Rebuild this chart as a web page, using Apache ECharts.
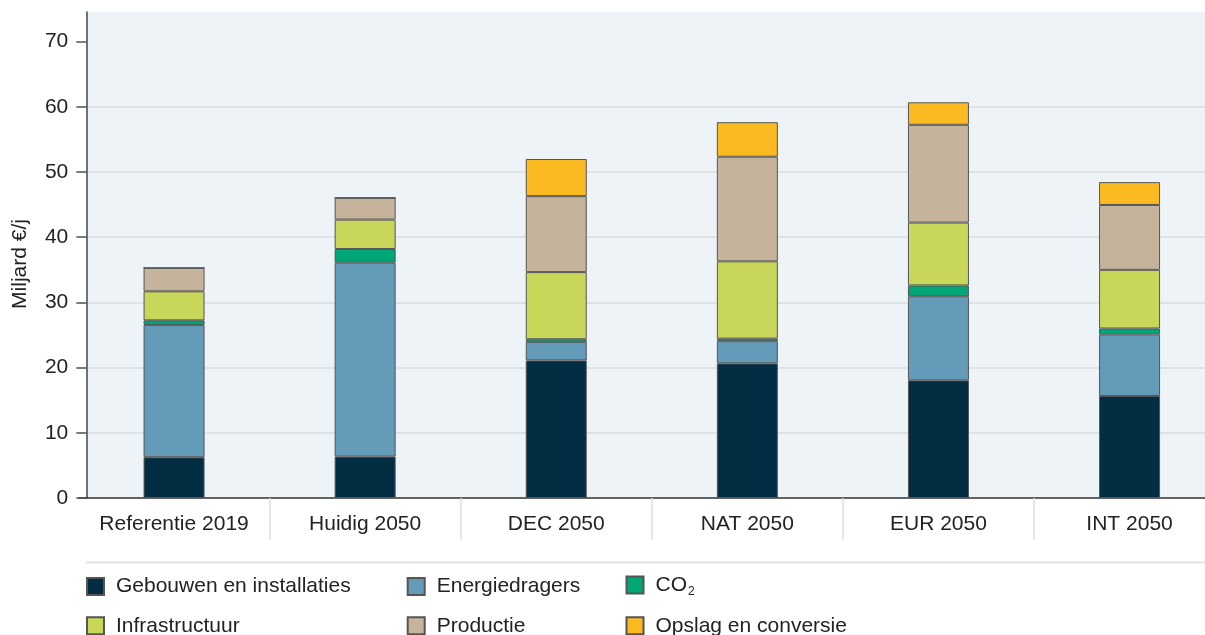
<!DOCTYPE html>
<html>
<head>
<meta charset="utf-8">
<script src="https://cdn.jsdelivr.net/npm/echarts@6/dist/echarts.min.js"></script>
<style>
html,body{margin:0;padding:0;background:#fff;}
#chart{width:1205px;height:635px;}
</style>
</head>
<body>
<div id="chart"></div>
<script>
const categories = ['Referentie 2019', 'Huidig 2050', 'DEC 2050', 'NAT 2050', 'EUR 2050', 'INT 2050'];
const gebouwen = [6.25, 6.35, 21.1, 20.65, 18.05, 15.65];
const energiedragers = [20.3, 29.75, 2.85, 3.4, 12.9, 9.45];
const co2 = [0.7, 2.1, 0.4, 0.4, 1.65, 0.9];
const infrastructuur = [4.45, 4.5, 10.3, 11.85, 9.65, 9.0];
const productie = [3.6, 3.35, 11.65, 16.05, 15.0, 9.95];
const opslag = [0, 0, 5.7, 5.3, 3.45, 3.5];
const yTicks = [0, 10, 20, 30, 40, 50, 60, 70];

const seriesDefs = [
  { name: 'Gebouwen en installaties', data: gebouwen, color: '#022d42' },
  { name: 'Energiedragers', data: energiedragers, color: '#649bb9' },
  { name: 'CO2', data: co2, color: '#00a676' },
  { name: 'Infrastructuur', data: infrastructuur, color: '#c8d65a' },
  { name: 'Productie', data: productie, color: '#c6b39b' },
  { name: 'Opslag en conversie', data: opslag, color: '#fbba22' }
];

const chart = echarts.init(document.getElementById('chart'), null, { renderer: 'canvas' });

const FONT = 'Liberation Sans, Arial, sans-serif';
const legendText = {
  fontSize: 21, color: '#222', fontFamily: FONT,
  lineHeight: 21, padding: [0, 0, 0, 7],
  rich: { sub: { fontSize: 12, fontFamily: FONT, color: '#222', padding: [14, 0, 0, 1] } }
};
function mkLegend(left, top, names) {
  return {
    orient: 'vertical', left: left, top: top, height: 120, padding: 0,
    itemWidth: 17, itemHeight: 17, itemGap: 18.3,
    icon: 'rect', selectedMode: false, data: names,
    formatter: n => n === 'CO2' ? 'CO{sub|2}' : n,
    textStyle: legendText
  };
}

chart.setOption({
  animation: false,
  grid: { left: 78.5, width: 1146.6, top: 12, bottom: 137, containLabel: false, outerBoundsMode: 'none' },
  graphic: [
    { type: 'rect', z: -100, shape: { x: 86.3, y: 12, width: 1130, height: 486 }, style: { fill: '#eef3f8' } },
    { type: 'line', z: -100, shape: { x1: 86, y1: 562.5, x2: 1205, y2: 562.5 }, style: { stroke: '#e3e3e3', lineWidth: 2 } }
  ],
  legend: [
    mkLegend(86, 576, ['Gebouwen en installaties', 'Infrastructuur']),
    mkLegend(406.7, 576, ['Energiedragers', 'Productie']),
    mkLegend(625.5, 574.5, ['CO2']),
    mkLegend(625.5, 615.3, ['Opslag en conversie'])
  ],
  xAxis: {
    type: 'category', data: categories, boundaryGap: true,
    axisLine: { lineStyle: { color: '#333', width: 1.5 } },
    axisTick: { show: true, length: 42, interval: (i) => i !== 0, lineStyle: { color: '#dedede', width: 1.5 } },
    axisLabel: { interval: 0, fontSize: 21, color: '#222', margin: 16, fontFamily: FONT }
  },
  yAxis: {
    type: 'value', min: 0, max: 74.55, interval: 10, offset: -7.8,
    name: 'Miljard €/j', nameLocation: 'middle', nameGap: 56,
    nameTextStyle: { fontSize: 21, color: '#222', fontFamily: FONT, padding: [0, 18, 0, 0] },
    axisLine: { show: true, lineStyle: { color: '#444', width: 1.5 } },
    axisTick: { show: true, length: 10, lineStyle: { color: '#555', width: 1.5 }, customValues: yTicks },
    axisLabel: { fontSize: 21, color: '#222', margin: 18, fontFamily: FONT, customValues: yTicks },
    splitLine: { show: true, showMinLine: false, showMaxLine: false, lineStyle: { color: '#d9dcdf', width: 1.5 } }
  },
  series: seriesDefs.map(s => ({
    name: s.name, type: 'bar', stack: 'total', data: s.data, barWidth: 61,
    itemStyle: { color: s.color, borderColor: '#555', borderWidth: 1 }
  }))
});
</script>
</body>
</html>
